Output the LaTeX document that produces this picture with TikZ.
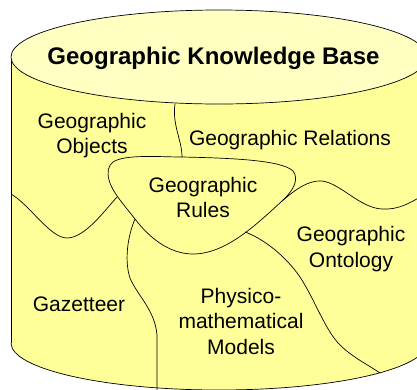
\documentclass[tikz,border=0pt]{standalone}
\usepackage{fontspec}
\setmainfont{Liberation Sans}
\definecolor{bodyyellow}{HTML}{FFFF99}
\definecolor{topyellow}{HTML}{FFFFC2}
\begin{document}
\begin{tikzpicture}[x=1pt,y=-1pt,
  edge/.style={draw=black,line width=0.7pt},
  lbl/.style={anchor=north,inner sep=0pt,align=center,font=\fontsize{21}{25.5}\selectfont},
  ttl/.style={anchor=north,inner sep=0pt,font=\fontsize{24}{28}\selectfont\bfseries}]
\useasboundingbox (0,0) rectangle (417,389);
\clip (0,0) rectangle (417,389);
% cylinder body
\fill[bodyyellow] (11,57) rectangle (427,343);
\fill[bodyyellow] (219,343) ellipse [x radius=208, y radius=47];
\begin{scope}
  \clip (0,343) rectangle (440,400);
  \draw[edge] (219,343) ellipse [x radius=208, y radius=47];
\end{scope}
\draw[edge] (11,57) -- (11,343);
% interior boundaries
\coordinate (topA) at (175,104);
\coordinate (topB) at (182,157);
\draw[edge] (topA) .. controls (172,125) and (182,140) .. (topB);
% rules blob
\draw[edge] (113,162) .. controls (125,154) and (160,157) .. (182,157)
  .. controls (230,158) and (282,160) .. (293,171)
  .. controls (300,180) and (292,192) .. (282,201)
  .. controls (255,226) and (225,254) .. (193,254)
  .. controls (168,254) and (148,236) .. (135,219)
  .. controls (125,206) and (112,192) .. (109,180)
  .. controls (107,172) and (108,166) .. (113,162) -- cycle;
% left wave
\coordinate (lw0) at (11,194);
\coordinate (lw1) at (117,197);
\draw[edge] (lw0) .. controls (30,205) and (50,238) .. (67,238)
  .. controls (85,238) and (105,210) .. (lw1);
% right wave
\coordinate (rw0) at (282,201);
\coordinate (rw1) at (420,197);
\draw[edge] (rw0) .. controls (295,190) and (308,180) .. (322,181)
  .. controls (340,183) and (360,208) .. (382,209)
  .. controls (398,210) and (410,203) .. (rw1);
% line to bottom right
\coordinate (br0) at (245,232);
\coordinate (br1) at (380,373);
\draw[edge] (br0) .. controls (262,238) and (285,255) .. (300,277)
  .. controls (315,300) and (325,330) .. (340,345)
  .. controls (352,357) and (370,366) .. (br1);
% line to bottom left
\coordinate (bl0) at (135,219);
\coordinate (bl1) at (157,395);
\draw[edge] (bl0) .. controls (128,235) and (124,260) .. (130,278)
  .. controls (137,295) and (155,310) .. (157,335) -- (bl1);
% top ellipse
\draw[edge,fill=topyellow] (219,57) ellipse [x radius=208, y radius=47];
% texts
\node[ttl] (title) at (213.5,47) {Geographic Knowledge Base};
\node[lbl] (objects) at (92,113) {Geographic\\Objects};
\node[lbl] (relations) at (290,130) {Geographic Relations};
\node[lbl] (rules) at (203,177) {Geographic\\Rules};
\node[lbl,font=\fontsize{21}{26}\selectfont] (ontology) at (351,226) {Geographic\\Ontology};
\node[lbl] (gazetteer) at (79,297) {Gazetteer};
\node[lbl] (models) at (241,288) {Physico-\\mathematical\\Models};
\end{tikzpicture}
\end{document}
